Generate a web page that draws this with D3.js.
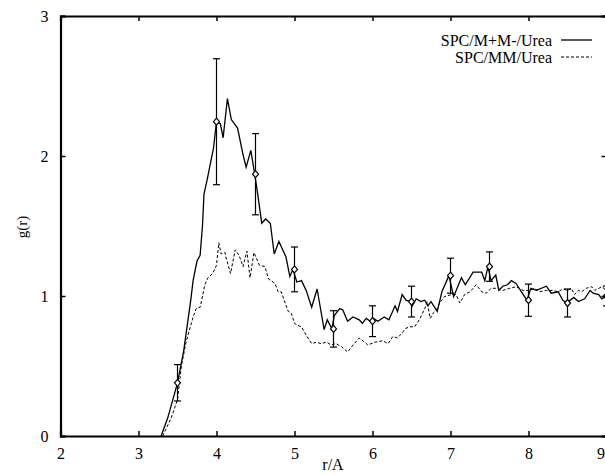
<!DOCTYPE html>
<html>
<head>
  <meta charset="utf-8">
  <title>g(r) - SPC urea</title>
  <script src="https://d3js.org/d3.v7.min.js"></script>
  <style>
    body { margin: 0; background: #fff; }
    text { font-family: "Liberation Serif", "Times New Roman", serif; }
  </style>
</head>
<body>
  <div id="chart"></div>
  <script>
    // solid curve: SPC/M+M-/Urea
    var rSolid = [3.29, 3.375, 3.5, 3.58, 3.67, 3.70, 3.75, 3.79, 3.82, 3.84, 3.88, 3.93, 3.96, 4.00, 4.05, 4.085,
      4.14, 4.19, 4.27, 4.34, 4.38, 4.44, 4.49, 4.52, 4.58, 4.63, 4.69, 4.74, 4.80, 4.89, 4.94, 4.98, 5.03, 5.09,
      5.15, 5.22, 5.29, 5.38, 5.42, 5.48, 5.51, 5.58, 5.62, 5.68, 5.75, 5.83, 5.87, 5.92, 5.97, 6.01, 6.07, 6.15,
      6.21, 6.29, 6.32, 6.38, 6.43, 6.48, 6.51, 6.56, 6.62, 6.67, 6.71, 6.75, 6.83, 6.89, 6.98, 7.04, 7.14, 7.19,
      7.29, 7.40, 7.44, 7.48, 7.52, 7.58, 7.62, 7.67, 7.73, 7.78, 7.84, 7.91, 7.98, 8.03, 8.10, 8.23, 8.29, 8.38,
      8.44, 8.49, 8.58, 8.64, 8.72, 8.79, 8.83, 8.90, 8.94, 9.00];
    var gSolid = [0.00, 0.13, 0.38, 0.61, 0.97, 1.11, 1.25, 1.29, 1.50, 1.73, 1.83, 1.97, 2.05, 2.245, 2.23, 2.13,
      2.41, 2.26, 2.20, 2.01, 1.92, 2.04, 1.87, 1.76, 1.52, 1.55, 1.52, 1.30, 1.39, 1.28, 1.14, 1.19, 1.10, 1.11,
      1.04, 0.92, 1.05, 0.76, 0.83, 0.765, 0.86, 0.91, 0.90, 0.82, 0.85, 0.83, 0.805, 0.84, 0.82, 0.84, 0.82, 0.85,
      0.83, 0.93, 0.89, 1.01, 0.97, 0.96, 0.93, 0.98, 0.96, 0.97, 0.93, 0.96, 0.89, 1.03, 1.145, 0.995, 1.13, 1.08,
      1.17, 1.17, 1.11, 1.21, 1.11, 1.15, 1.04, 1.07, 1.08, 1.11, 1.09, 1.03, 0.97, 1.055, 1.04, 1.07, 1.02, 1.03,
      0.97, 0.95, 0.99, 0.96, 0.98, 1.04, 1.02, 1.01, 0.98, 1.00];

    // dashed curve: SPC/MM/Urea
    var rDashed = [3.31, 3.42, 3.50, 3.55, 3.61, 3.70, 3.74, 3.79, 3.81, 3.85, 3.89, 3.95, 4.00, 4.03, 4.06, 4.11,
      4.12, 4.18, 4.24, 4.29, 4.34, 4.39, 4.43, 4.48, 4.55, 4.62, 4.67, 4.75, 4.79, 4.83, 4.88, 4.92, 4.96, 5.00,
      5.04, 5.09, 5.15, 5.22, 5.28, 5.34, 5.41, 5.47, 5.53, 5.60, 5.68, 5.75, 5.83, 5.90, 5.94, 6.03, 6.13, 6.20,
      6.26, 6.32, 6.37, 6.43, 6.48, 6.54, 6.60, 6.67, 6.70, 6.74, 6.78, 6.82, 6.86, 6.92, 7.01, 7.07, 7.12, 7.18,
      7.25, 7.33, 7.40, 7.46, 7.52, 7.58, 7.67, 7.76, 7.84, 7.93, 8.01, 8.08, 8.14, 8.23, 8.31, 8.38, 8.44, 8.50,
      8.55, 8.59, 8.64, 8.68, 8.74, 8.81, 8.85, 8.94, 9.00];
    var gDashed = [0.00, 0.13, 0.26, 0.50, 0.67, 0.85, 0.91, 0.92, 0.97, 1.08, 1.13, 1.16, 1.22, 1.38, 1.30, 1.31,
      1.28, 1.16, 1.33, 1.29, 1.21, 1.32, 1.13, 1.31, 1.22, 1.21, 1.12, 1.09, 1.03, 1.03, 0.95, 0.89, 0.876, 0.805,
      0.79, 0.78, 0.72, 0.66, 0.67, 0.66, 0.67, 0.65, 0.66, 0.64, 0.60, 0.65, 0.70, 0.67, 0.65, 0.67, 0.68, 0.66,
      0.71, 0.70, 0.73, 0.77, 0.78, 0.78, 0.83, 0.91, 0.96, 0.84, 0.88, 0.90, 0.95, 0.995, 1.01, 1.01, 0.95, 1.01,
      1.03, 1.08, 1.03, 1.02, 1.055, 1.055, 1.04, 1.055, 1.066, 1.04, 1.04, 1.055, 1.03, 1.04, 1.04, 1.03, 1.05, 1.04,
      1.055, 1.01, 1.04, 1.03, 1.055, 1.066, 1.04, 1.066, 1.04];

    // error bars on the solid curve
    var errR = [3.5, 4.0, 4.5, 5.0, 5.5, 6.0, 6.5, 7.0, 7.5, 8.0, 8.5, 9.0];
    var errG = [0.38, 2.245, 1.87, 1.19, 0.765, 0.82, 0.96, 1.145, 1.21, 0.97, 0.95, 1.00];
    var errD = [0.13, 0.45, 0.29, 0.16, 0.13, 0.11, 0.11, 0.125, 0.105, 0.115, 0.10, 0.07];

    var xTicks = [2, 3, 4, 5, 6, 7, 8, 9];
    var yTicks = [0, 1, 2, 3];
    var legendNames = ["SPC/M+M-/Urea", "SPC/MM/Urea"];

    var W = 605, H = 475;
    var svg = d3.select("#chart").append("svg")
      .attr("width", W)
      .attr("height", H);

    var x = d3.scaleLinear().domain([2, 9]).range([60.5, 606.5]);
    var y = d3.scaleLinear().domain([0, 3]).range([436, 16]);

    var solid = rSolid.map(function(r, i) { return [r, gSolid[i]]; });
    var dashed = rDashed.map(function(r, i) { return [r, gDashed[i]]; });

    var line = d3.line()
      .x(function(d) { return x(d[0]); })
      .y(function(d) { return y(d[1]); });

    // curves
    svg.append("path").datum(dashed)
      .attr("d", line)
      .attr("fill", "none")
      .attr("stroke", "#000")
      .attr("stroke-width", 1)
      .attr("stroke-dasharray", "3,2");

    svg.append("path").datum(solid)
      .attr("d", line)
      .attr("fill", "none")
      .attr("stroke", "#000")
      .attr("stroke-width", 1.3);

    // error bars
    var eb = svg.append("g").attr("stroke", "#000").attr("stroke-width", 1.2);
    errR.forEach(function(r, i) {
      var cx = x(r), top = y(errG[i] + errD[i]), bot = y(errG[i] - errD[i]);
      eb.append("line").attr("x1", cx).attr("x2", cx).attr("y1", top).attr("y2", bot);
      eb.append("line").attr("x1", cx - 3.5).attr("x2", cx + 3.5).attr("y1", top).attr("y2", top);
      eb.append("line").attr("x1", cx - 3.5).attr("x2", cx + 3.5).attr("y1", bot).attr("y2", bot);
      var cy = y(errG[i]);
      eb.append("path")
        .attr("d", "M" + cx + "," + (cy - 3.5) + "L" + (cx + 3) + "," + cy + "L" + cx + "," + (cy + 3.5) + "L" + (cx - 3) + "," + cy + "Z")
        .attr("fill", "#fff");
    });

    // axes, ticks pointing inward
    var axB = svg.append("g").attr("transform", "translate(0," + y(0) + ")")
      .call(d3.axisBottom(x).tickValues(xTicks).tickSize(-5).tickPadding(12).tickFormat(d3.format("d")));
    var axT = svg.append("g").attr("transform", "translate(0," + y(3) + ")")
      .call(d3.axisTop(x).tickValues(xTicks).tickSize(-5).tickFormat(""));
    var axL = svg.append("g").attr("transform", "translate(" + x(2) + ",0)")
      .call(d3.axisLeft(y).tickValues(yTicks).tickSize(-5).tickPadding(12).tickFormat(d3.format("d")));
    var axR = svg.append("g").attr("transform", "translate(" + x(9) + ",0)")
      .call(d3.axisRight(y).tickValues(yTicks).tickSize(-5).tickFormat(""));

    [axB, axT, axL, axR].forEach(function(a) {
      a.select(".domain").attr("stroke-width", 2.2);
      a.selectAll(".tick line").attr("stroke-width", 1.5);
      a.selectAll("text")
        .style("font-family", "'Liberation Serif', 'Times New Roman', serif")
        .style("font-size", "16px")
        .attr("fill", "#000");
    });
    // last x label sits on the page edge; keep it inside
    axB.selectAll(".tick text")
      .filter(function(d) { return d === 9; })
      .attr("text-anchor", "end")
      .attr("dx", "-2");

    // axis titles
    svg.append("text")
      .attr("x", 333)
      .attr("y", 470)
      .attr("text-anchor", "middle")
      .style("font-size", "16px")
      .text("r/A");

    svg.append("text")
      .attr("transform", "translate(22,227) rotate(-90)")
      .attr("text-anchor", "middle")
      .attr("dy", "0.35em")
      .style("font-size", "15px")
      .text("g(r)");

    // legend
    var lg = svg.append("g");
    legendNames.forEach(function(name, i) {
      var ly = 40 + i * 17;
      lg.append("text")
        .attr("x", 552)
        .attr("y", ly)
        .attr("dy", "0.35em")
        .attr("text-anchor", "end")
        .style("font-size", "16px")
        .text(name);
      lg.append("line")
        .attr("x1", 561).attr("x2", 592)
        .attr("y1", ly).attr("y2", ly)
        .attr("stroke", "#000")
        .attr("stroke-width", i === 0 ? 1.3 : 1)
        .attr("stroke-dasharray", i === 0 ? null : "3,2");
    });
  </script>
</body>
</html>
